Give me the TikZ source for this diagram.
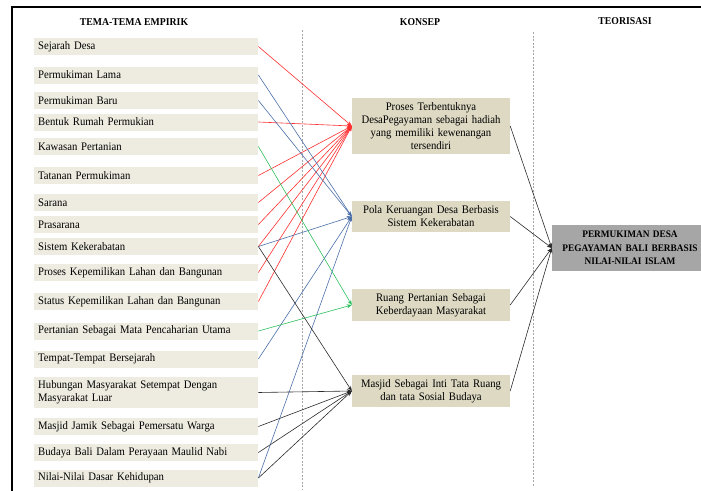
\documentclass[tikz,border=0pt]{standalone}
\usepackage{fontspec}
\setmainfont{Liberation Serif}[FakeStretch=0.93]
\usetikzlibrary{arrows.meta}
\definecolor{temafill}{HTML}{EEECE1}
\definecolor{konsepfill}{HTML}{DDD9C3}
\definecolor{teorifill}{HTML}{A6A6A6}
\definecolor{merah}{HTML}{FF2E2E}
\definecolor{biru}{HTML}{4A6EA8}
\definecolor{hijau}{HTML}{2EBF5C}
\definecolor{hitam}{HTML}{2B2B2B}
\tikzset{x=1pt, y=-1pt,
    tema/.style={fill=temafill, anchor=west, text width=216pt, minimum height=17pt,
        inner xsep=4pt, inner ysep=1pt, align=left, font=\fontsize{11.5}{13}\selectfont},
    konsep/.style={fill=konsepfill, text width=150pt, inner xsep=4pt, inner ysep=1pt,
        align=center, font=\fontsize{11.5}{13}\selectfont},
    teori/.style={fill=teorifill, text width=148pt, inner xsep=4pt, minimum height=46pt,
        align=center, font=\fontsize{10}{13.5}\selectfont\bfseries},
    judul/.style={font=\fontsize{10.5}{12}\selectfont\bfseries},
    panah/.style={-{Stealth[length=5pt,width=4pt]}, line width=0.6pt},
    pemisah/.style={gray!70, dash pattern=on 2pt off 1.5pt, line width=0.5pt},
    }
\begin{document}
\begin{tikzpicture}
	\useasboundingbox (0,0) rectangle (701,490);
	\clip (0,0) rectangle (701,490);
	\draw[line width=1.6pt] (12,7) rectangle (720,500);
	% kolom
	\node[judul] (hEmpirik) at (134,22) {TEMA-TEMA EMPIRIK};
	\node[judul] (hKonsep) at (420,22) {KONSEP};
	\node[judul] (hTeori) at (625,21) {TEORISASI};
	\draw[pemisah] (302,30) -- (302,490);
	\draw[pemisah] (533,32) -- (533,487);
	% tema empirik
	\node[tema] (sejarah) at (34,46.5) {Sejarah Desa};
	\node[tema] (lama) at (34,75) {Permukiman Lama};
	\node[tema] (baru) at (34,100.5) {Permukiman Baru};
	\node[tema] (rumah) at (34,122) {Bentuk Rumah Permukian};
	\node[tema] (kawasan) at (34,146.5) {Kawasan Pertanian};
	\node[tema] (tatanan) at (34,175.5) {Tatanan Permukiman};
	\node[tema] (sarana) at (34,202.5) {Sarana};
	\node[tema] (prasarana) at (34,224.5) {Prasarana};
	\node[tema] (kerabat) at (34,246.5) {Sistem Kekerabatan};
	\node[tema] (proses) at (34,272.5) {Proses Kepemilikan Lahan dan Bangunan};
	\node[tema] (status) at (34,301.5) {Status Kepemilikan Lahan dan Bangunan};
	\node[tema] (tani) at (34,331) {Pertanian Sebagai Mata Pencaharian Utama};
	\node[tema] (tempat) at (34,359) {Tempat-Tempat Bersejarah};
	\node[tema, minimum height=31pt] (hubungan) at (34,392.5) {Hubungan Masyarakat Setempat Dengan\\Masyarakat Luar};
	\node[tema] (jamik) at (34,426.5) {Masjid Jamik Sebagai Pemersatu Warga};
	\node[tema] (budaya) at (34,452.5) {Budaya Bali Dalam Perayaan Maulid Nabi};
	\node[tema] (nilai) at (34,478) {Nilai-Nilai Dasar Kehidupan};
	% konsep
	\node[konsep, minimum height=56pt] (kTerbentuk) at (431,126) {Proses Terbentuknya\\DesaPegayaman sebagai hadiah\\yang memiliki kewenangan\\tersendiri};
	\node[konsep, minimum height=31pt] (kRuang) at (431,216.5) {Pola Keruangan Desa Berbasis\\Sistem Kekerabatan};
	\node[konsep, minimum height=32pt] (kTani) at (431,305) {Ruang Pertanian Sebagai\\Keberdayaan Masyarakat};
	\node[konsep, minimum height=32pt] (kMasjid) at (431,391) {Masjid Sebagai Inti Tata Ruang\\dan tata Sosial Budaya};
	% teorisasi
	\node[teori] (teori) at (630,248) {PERMUKIMAN DESA\\PEGAYAMAN BALI BERBASIS\\NILAI-NILAI ISLAM};
	% ke konsep 1
	\draw[panah, merah] (sejarah.east) -- (kTerbentuk.west);
	\draw[panah, merah] (rumah.east) -- (kTerbentuk.west);
	\draw[panah, merah] (tatanan.east) -- (kTerbentuk.west);
	\draw[panah, merah] (sarana.east) -- (kTerbentuk.west);
	\draw[panah, merah] (prasarana.east) -- (kTerbentuk.west);
	\draw[panah, merah] (kerabat.east) -- (kTerbentuk.west);
	\draw[panah, merah] (proses.east) -- (kTerbentuk.west);
	\draw[panah, merah] (status.east) -- (kTerbentuk.west);
	% ke konsep 2
	\draw[panah, biru] (lama.east) -- (kRuang.west);
	\draw[panah, biru] (baru.east) -- (kRuang.west);
	\draw[panah, biru] (kerabat.east) -- (kRuang.west);
	\draw[panah, biru] (tempat.east) -- (kRuang.west);
	\draw[panah, biru] (nilai.east) -- (kRuang.west);
	% ke konsep 3
	\draw[panah, hijau] (kawasan.east) -- (kTani.west);
	\draw[panah, hijau] (tani.east) -- (kTani.west);
	% ke konsep 4
	\draw[panah, hitam] (kerabat.east) -- (kMasjid.west);
	\draw[panah, hitam] (hubungan.east) -- (kMasjid.west);
	\draw[panah, hitam] (jamik.east) -- (kMasjid.west);
	\draw[panah, hitam] (budaya.east) -- (kMasjid.west);
	\draw[panah, hitam] (nilai.east) -- (kMasjid.west);
	% ke teorisasi
	\draw[panah, hitam] (kTerbentuk.east) -- (teori.west);
	\draw[panah, hitam] (kRuang.east) -- (teori.west);
	\draw[panah, hitam] (kTani.east) -- (teori.west);
	\draw[panah, hitam] (kMasjid.east) -- (teori.west);
\end{tikzpicture}
\end{document}
